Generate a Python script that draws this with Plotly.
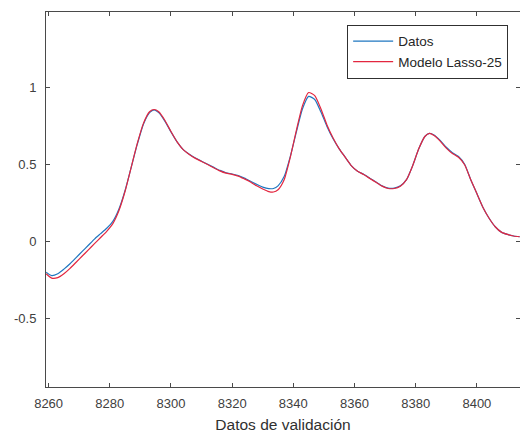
import plotly.graph_objects as go

x_vals = [8259.2, 8261, 8263, 8265, 8267, 8269, 8271, 8273, 8275, 8277, 8279, 8281, 8283, 8285,
          8287, 8289, 8291, 8293, 8294.5, 8296, 8298, 8300, 8302, 8304, 8306, 8308, 8310, 8312,
          8314, 8316, 8318, 8320, 8322, 8324, 8326, 8328, 8330, 8332, 8333.5, 8335, 8337, 8339,
          8341, 8343, 8345, 8347, 8349, 8351, 8353, 8355, 8357, 8359, 8361, 8363, 8365, 8367,
          8369, 8371, 8373, 8375, 8377, 8379, 8381, 8383, 8384.5, 8386, 8388, 8390, 8392, 8394,
          8396, 8398, 8400, 8402, 8404, 8406, 8408, 8410, 8412, 8414]

datos = [-0.20, -0.222, -0.21, -0.18, -0.145, -0.105, -0.065, -0.025, 0.015, 0.05, 0.085, 0.13,
         0.21, 0.33, 0.48, 0.63, 0.76, 0.835, 0.853, 0.835, 0.78, 0.71, 0.645, 0.595, 0.565,
         0.54, 0.52, 0.50, 0.48, 0.46, 0.445, 0.437, 0.427, 0.41, 0.39, 0.37, 0.352, 0.342,
         0.343, 0.36, 0.42, 0.55, 0.71, 0.86, 0.94, 0.92, 0.84, 0.745, 0.665, 0.60, 0.545,
         0.49, 0.455, 0.435, 0.41, 0.385, 0.36, 0.345, 0.345, 0.36, 0.40, 0.49, 0.60, 0.68,
         0.70, 0.69, 0.655, 0.61, 0.575, 0.55, 0.50, 0.40, 0.31, 0.22, 0.15, 0.095, 0.06,
         0.045, 0.035, 0.03]

modelo = [-0.21, -0.238, -0.235, -0.21, -0.175, -0.135, -0.095, -0.055, -0.015, 0.025, 0.065,
          0.115, 0.20, 0.325, 0.48, 0.635, 0.765, 0.84, 0.855, 0.84, 0.785, 0.712, 0.645,
          0.595, 0.563, 0.538, 0.518, 0.498, 0.477, 0.457, 0.442, 0.434, 0.423, 0.405, 0.385,
          0.36, 0.34, 0.323, 0.32, 0.335, 0.40, 0.545, 0.72, 0.88, 0.965, 0.945, 0.86, 0.755,
          0.67, 0.60, 0.545, 0.49, 0.455, 0.433, 0.408, 0.383, 0.358, 0.343, 0.343, 0.358,
          0.40, 0.49, 0.60, 0.68, 0.70, 0.686, 0.65, 0.605, 0.57, 0.545, 0.497, 0.40, 0.31,
          0.22, 0.15, 0.095, 0.06, 0.045, 0.035, 0.03]

x_ticks = [8260, 8280, 8300, 8320, 8340, 8360, 8380, 8400]
y_ticks = [-0.5, 0, 0.5, 1]
y_tick_text = ["-0.5", "0", "0.5", "1"]

fig = go.Figure()
fig.add_trace(go.Scatter(x=x_vals, y=datos, mode="lines", name="Datos",
                         line=dict(color="#1f77c0", width=1.2, shape="spline", smoothing=0.6)))
fig.add_trace(go.Scatter(x=x_vals, y=modelo, mode="lines", name="Modelo Lasso-25",
                         line=dict(color="#e3263f", width=1.2, shape="spline", smoothing=0.6)))

axis_color = "#4a4a4a"
font_family = "Liberation Sans, Arial, sans-serif"

fig.update_layout(
    width=520, height=434,
    margin=dict(l=46, r=0, t=12, b=47),
    paper_bgcolor="white", plot_bgcolor="white",
    font=dict(family=font_family, size=13, color="#404040"),
    showlegend=True,
    legend=dict(x=0.975, y=0.966, xanchor="right", yanchor="top",
                bgcolor="white", bordercolor="#303030", borderwidth=1,
                font=dict(family=font_family, size=13.5, color="#262626"),
                tracegroupgap=0, itemwidth=40),
)
fig.update_xaxes(range=[8259.15, 8414.1], tickvals=x_ticks, ticks="inside", ticklen=4,
                 tickcolor=axis_color, showline=True, linecolor=axis_color, linewidth=1,
                 mirror="ticks", showgrid=False, zeroline=False,
                 tickfont=dict(size=13, color="#404040"), ticklabelstandoff=4,
                 title=dict(text="Datos de validación", font=dict(size=15.5, color="#303030"),
                            standoff=9))
fig.update_yaxes(range=[-0.944, 1.487], tickvals=y_ticks, ticktext=y_tick_text, ticks="inside",
                 ticklen=4, tickcolor=axis_color, showline=True, linecolor=axis_color,
                 linewidth=1, mirror="ticks", showgrid=False, zeroline=False,
                 tickfont=dict(size=13, color="#404040"), ticklabelstandoff=6)

fig.write_html("out.html")
